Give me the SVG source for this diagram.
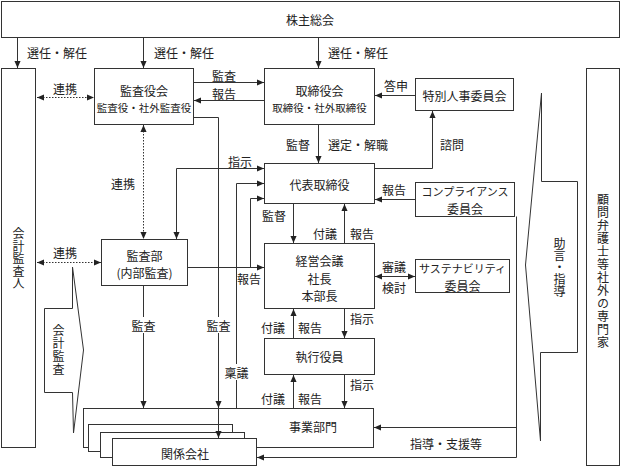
<svg xmlns="http://www.w3.org/2000/svg" width="621" height="466" viewBox="0 0 621 466">
<defs>
<style>
.t{font-family:"Noto Sans CJK JP","Noto Sans CJK SC",sans-serif;font-size:12px;fill:#222;text-anchor:middle;dominant-baseline:central}
.s{font-size:10.5px}
.k{font-size:11px}
.v{writing-mode:vertical-rl;text-orientation:upright}
.box{fill:#fff;stroke:#333;stroke-width:1}
.ln{fill:none;stroke:#333;stroke-width:1}
.dot{stroke-dasharray:1.5 1.5}
.bg{fill:#fff}
</style>
<marker id="ah" viewBox="0 0 8 8" refX="8" refY="4" markerWidth="7" markerHeight="7" orient="auto-start-reverse" markerUnits="userSpaceOnUse">
<path d="M0,0.5 L8,4 L0,7.5 z" fill="#222"/>
</marker>
</defs>
<rect width="621" height="466" fill="#fff"/>

<g id="connectors">
<path class="ln" d="M17.5,37.5 V68" marker-end="url(#ah)"/>
<path class="ln" d="M143.5,37.5 V68" marker-end="url(#ah)"/>
<path class="ln" d="M318.5,37.5 V68" marker-end="url(#ah)"/>
<path class="ln dot" d="M37,97.5 H94" marker-start="url(#ah)" marker-end="url(#ah)"/>
<path class="ln dot" d="M37,262.5 H101" marker-start="url(#ah)" marker-end="url(#ah)"/>
<path class="ln" d="M193.5,82.5 H264" marker-end="url(#ah)"/>
<path class="ln" d="M264.5,100.5 H194" marker-end="url(#ah)"/>
<path class="ln" d="M415.5,95.5 H375" marker-end="url(#ah)"/>
<path class="ln" d="M318.5,124.5 V163" marker-end="url(#ah)"/>
<path class="ln" d="M374.5,168.5 H432.5 V111" marker-end="url(#ah)"/>
<path class="ln dot" d="M143.5,125 V239" marker-start="url(#ah)" marker-end="url(#ah)"/>
<path class="ln" d="M176.5,239 V168.5 H264" marker-start="url(#ah)" marker-end="url(#ah)"/>
<path class="ln" d="M193.5,117.5 H218.5 V408" marker-end="url(#ah)"/>
<path class="ln" d="M143.5,285.5 V408" marker-end="url(#ah)"/>
<path class="ln" d="M236.5,408.5 V183.5 H264" marker-end="url(#ah)"/>
<path class="ln" d="M187.5,267.5 H264" marker-end="url(#ah)"/>
<path class="ln" d="M250.5,267.5 V198.5 H264" marker-end="url(#ah)"/>
<path class="ln" d="M293.5,203.5 V243" marker-end="url(#ah)"/>
<path class="ln" d="M344.5,243.5 V204" marker-end="url(#ah)"/>
<path class="ln" d="M415.5,199.5 H375" marker-end="url(#ah)"/>
<path class="ln" d="M375,276.5 H415" marker-start="url(#ah)" marker-end="url(#ah)"/>
<path class="ln" d="M344.5,308.5 V338" marker-end="url(#ah)"/>
<path class="ln" d="M293.5,338.5 V309" marker-end="url(#ah)"/>
<path class="ln" d="M344.5,374.5 V408" marker-end="url(#ah)"/>
<path class="ln" d="M293.5,408.5 V375" marker-end="url(#ah)"/>
<path class="ln" d="M516.5,216.5 V457.5 H257" marker-end="url(#ah)"/>
<path class="ln" d="M516.5,427.5 H374" marker-end="url(#ah)"/>
</g>

<g id="labels">
<text class="t" x="57" y="52">選任・解任</text>
<text class="t" x="184" y="52">選任・解任</text>
<text class="t" x="358" y="52">選任・解任</text>
<text class="t" x="65" y="88">連携</text>
<text class="t" x="224" y="75">監査</text>
<text class="t" x="224" y="93">報告</text>
<text class="t" x="396" y="85">答申</text>
<text class="t" x="298" y="144">監督</text>
<text class="t" x="358" y="144">選定・解職</text>
<text class="t" x="452" y="144">諮問</text>
<text class="t" x="240" y="161">指示</text>
<text class="t" x="123" y="183">連携</text>
<text class="t" x="274" y="215">監督</text>
<text class="t" x="325" y="233">付議</text>
<text class="t" x="362" y="233">報告</text>
<text class="t" x="394" y="189">報告</text>
<text class="t" x="65" y="252">連携</text>
<text class="t" x="249" y="278">報告</text>
<text class="t" x="394" y="266">審議</text>
<text class="t" x="394" y="287">検討</text>
<rect class="bg" x="131" y="317" width="25" height="16"/>
<text class="t" x="143.5" y="325">監査</text>
<rect class="bg" x="206" y="317" width="25" height="16"/>
<text class="t" x="218.5" y="325">監査</text>
<rect class="bg" x="224" y="364" width="25" height="16"/>
<text class="t" x="236.5" y="372">稟議</text>
<text class="t" x="273" y="327">付議</text>
<text class="t" x="310" y="327">報告</text>
<text class="t" x="362" y="318">指示</text>
<text class="t" x="273" y="398">付議</text>
<text class="t" x="310" y="398">報告</text>
<text class="t" x="362" y="384">指示</text>
<text class="t" x="446" y="443">指導・支援等</text>
</g>

<g id="shareholders">
<rect class="box" x="1.5" y="1.5" width="618" height="36"/>
<text class="t" x="310" y="19">株主総会</text>
</g>

<g id="accounting-auditor">
<rect class="box" x="1.5" y="68.5" width="34" height="379"/>
<text class="t v" x="18.5" y="259" style="letter-spacing:0.5px">会計監査人</text>
</g>

<g id="audit-board">
<rect class="box" x="94.5" y="68.5" width="99" height="56"/>
<text class="t" x="144" y="90">監査役会</text>
<text class="t s" x="144" y="107">監査役・社外監査役</text>
</g>

<g id="board">
<rect class="box" x="264.5" y="68.5" width="110" height="56"/>
<text class="t" x="319.5" y="90">取締役会</text>
<text class="t s" x="319.5" y="107">取締役・社外取締役</text>
</g>

<g id="special-personnel-committee">
<rect class="box" x="415.5" y="78.5" width="98" height="32"/>
<text class="t" x="464.5" y="95">特別人事委員会</text>
</g>

<g id="representative-director">
<rect class="box" x="264.5" y="163.5" width="110" height="40"/>
<text class="t" x="319.5" y="184">代表取締役</text>
</g>

<g id="compliance-committee">
<rect class="box" x="415.5" y="182.5" width="99" height="34"/>
<text class="t k" x="465" y="191">コンプライアンス</text>
<text class="t" x="465" y="208">委員会</text>
</g>

<g id="internal-audit">
<rect class="box" x="101.5" y="239.5" width="86" height="46"/>
<text class="t" x="144.5" y="255">監査部</text>
<text class="t" x="144.5" y="272">(内部監査)</text>
</g>

<g id="management-meeting">
<rect class="box" x="264.5" y="243.5" width="110" height="65"/>
<text class="t" x="319.5" y="260">経営会議</text>
<text class="t" x="319.5" y="278">社長</text>
<text class="t" x="319.5" y="295">本部長</text>
</g>

<g id="sustainability-committee">
<rect class="box" x="415.5" y="259.5" width="94" height="33"/>
<text class="t k" x="462.5" y="268">サステナビリティ</text>
<text class="t" x="462.5" y="285">委員会</text>
</g>

<g id="executive-officers">
<rect class="box" x="264.5" y="338.5" width="110" height="36"/>
<text class="t" x="319.5" y="356">執行役員</text>
</g>

<g id="business-divisions">
<rect class="box" x="83.5" y="408.5" width="290" height="39"/>
<text class="t" x="313" y="426">事業部門</text>
</g>

<g id="affiliates">
<rect class="box" x="88.5" y="424.5" width="144" height="27"/>
<rect class="box" x="100.5" y="432.5" width="144" height="25"/>
<rect class="box" x="112.5" y="438.5" width="144" height="27"/>
<text class="t" x="185" y="453">関係会社</text>
</g>
<path class="ln" d="M218.5,408 V438" marker-end="url(#ah)"/>

<g id="accounting-audit-callout">
<polygon class="box" points="72.5,267 83.5,350 73.5,433 72.5,392.5 44.5,392.5 44.5,308.5 72.5,308.5"/>
<text class="t v" x="58.5" y="350.5" style="letter-spacing:1px">会計監査</text>
</g>

<g id="advice-callout">
<polygon class="box" points="541.5,93 525.5,265 540.5,441 540.5,352.5 577.5,352.5 577.5,181.5 541.5,181.5"/>
<text class="t v" x="559.5" y="267">助言・指導</text>
</g>

<g id="outside-experts">
<rect class="box" x="586.5" y="68.5" width="33" height="397"/>
<text class="t v" x="603" y="271.5" style="letter-spacing:1px">顧問弁護士等社外の専門家</text>
</g>
</svg>
